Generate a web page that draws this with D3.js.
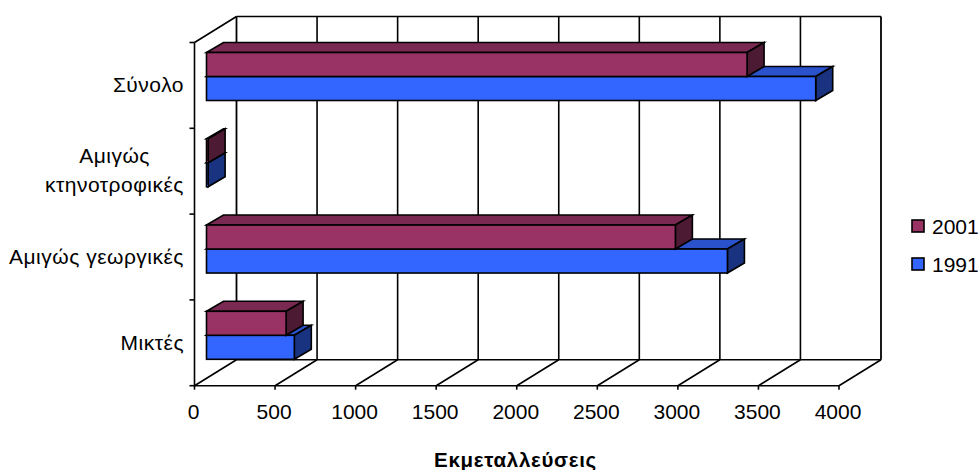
<!DOCTYPE html>
<html><head><meta charset="utf-8">
<style>html,body{margin:0;padding:0;background:#fff}svg{display:block}text{font-family:"Liberation Sans",Arial,sans-serif;fill:#000}</style>
<script src="https://cdn.jsdelivr.net/npm/d3@7"></script>
</head><body><svg id="c" width="978" height="470"></svg>
<script>
const categories = ["Σύνολο", "Αμιγώς κτηνοτροφικές", "Αμιγώς γεωργικές", "Μικτές"];
const categoryLines = [["Σύνολο"], ["Αμιγώς", "κτηνοτροφικές"], ["Αμιγώς γεωργικές"], ["Μικτές"]];
const values2001 = [3355, 10, 2910, 494];
const values1991 = [3781, 10, 3233, 545];
const xTicks = [0, 500, 1000, 1500, 2000, 2500, 3000, 3500, 4000];
const seriesNames = ["2001", "1991"];
const seriesFront = ["#993366", "#3366ff"];
const seriesTop = ["#7a2952", "#2952cc"];
const seriesSide = ["#4d1a33", "#1a3380"];
const axisTitle = "Εκμεταλλεύσεις";

const svg = d3.select("#c");
const ink = "#000";
const x = d3.scaleLinear().domain([0, 4000]).range([194.5, 839]);
const y = d3.scaleBand().domain(categories).range([42.5, 385.7]);
const barY = d3.scalePoint().domain(categories).range([52.5, 311.3]);
const depthX = 42, depthY = -26;
const barDX = 17, barDY = -10;
const barShiftX = 12;
const barH = 24;

const line = (x1, y1, x2, y2, w = 1.6) => svg.append("line").attr("x1", x1).attr("y1", y1).attr("x2", x2).attr("y2", y2).attr("stroke", ink).attr("stroke-width", w);

const bottom = y.range()[1], top0 = y.range()[0];
xTicks.forEach((t, i) => {
  line(x(t) + depthX, bottom + depthY, x(t) + depthX, top0 + depthY, i === 0 || i === xTicks.length - 1 ? 1.8 : 1.6);
  line(x(t), bottom, x(t) + depthX, bottom + depthY);
  line(x(t), bottom, x(t), bottom + 4);
  svg.append("text").attr("x", x(t) - 1).attr("y", 419).attr("text-anchor", "middle").attr("font-size", 21).text(t);
});
line(x(0) + depthX, top0 + depthY, x(4000) + depthX, top0 + depthY);
line(x(0) + depthX, bottom + depthY, x(4000) + depthX, bottom + depthY);
line(x(0), bottom, x(4000), bottom);
line(x(0), top0, x(0), bottom);
line(x(0), top0, x(0) + depthX, top0 + depthY);
d3.range(5).forEach(i => {
  const yy = top0 + i * y.step();
  line(x(0) - 5, yy, x(0), yy);
});

categories.forEach((c, ci) => {
  [1, 0].forEach(s => {
    const v = s === 0 ? values2001[ci] : values1991[ci];
    const x0 = x(0) + barShiftX, x1 = x(v) + barShiftX;
    const yT = barY(c) + s * barH, yB = yT + barH;
    const g = svg.append("g").attr("stroke", ink).attr("stroke-width", 1.6).attr("stroke-linejoin", "miter");
    const P = pts => pts.map(p => p.join(",")).join(" ");
    g.append("polygon").attr("points", P([[x0, yT], [x1, yT], [x1 + barDX, yT + barDY], [x0 + barDX, yT + barDY]])).attr("fill", seriesTop[s]);
    g.append("polygon").attr("points", P([[x1, yT], [x1 + barDX, yT + barDY], [x1 + barDX, yB + barDY], [x1, yB]])).attr("fill", seriesSide[s]);
    g.append("rect").attr("x", x0).attr("y", yT).attr("width", x1 - x0).attr("height", barH).attr("fill", seriesFront[s]);
  });
});

categories.forEach((c, ci) => {
  const lines = categoryLines[ci];
  const cy = y(c) + y.bandwidth() / 2;
  lines.forEach((l, li) => {
    const two = lines.length === 2;
    svg.append("text").attr("x", two && li === 0 ? 150 : 184).attr("y", two ? (li === 0 ? cy - 8.5 : cy + 21) : cy + 7)
      .attr("text-anchor", "end").attr("font-size", 21).attr("letter-spacing", 0.5).text(l);
  });
});

svg.append("text").attr("x", 515.5).attr("y", 467).attr("text-anchor", "middle").attr("font-size", 20.5).attr("font-weight", "bold").attr("letter-spacing", 0.7).text(axisTitle);

seriesNames.forEach((n, i) => {
  const ly = 220 + i * 38;
  svg.append("rect").attr("x", 912).attr("y", ly).attr("width", 12).attr("height", 12).attr("fill", seriesFront[i]).attr("stroke", ink).attr("stroke-width", 1.6);
  svg.append("text").attr("x", 932).attr("y", ly + 14).attr("font-size", 21).text(n);
});
</script></body></html>
